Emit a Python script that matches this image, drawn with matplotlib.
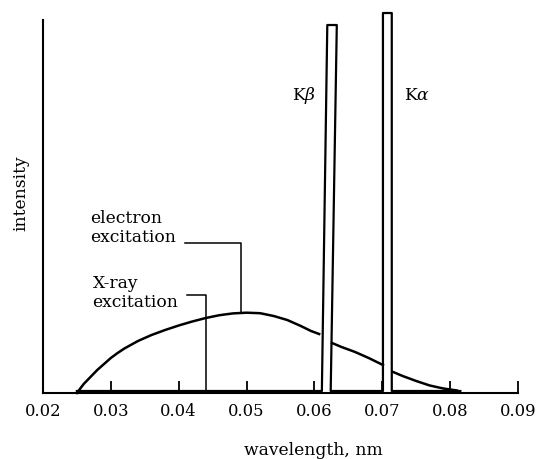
import matplotlib
matplotlib.use("Agg")
import matplotlib.pyplot as plt

plt.rcParams['font.family'] = ['DejaVu Serif']
plt.rcParams['mathtext.fontset'] = 'dejavuserif'

# wavelength (nm) and intensity (arbitrary units)
# electron excitation continuum, broken by the two lines
electron_wl_1 = [0.025, 0.026, 0.027, 0.028, 0.029, 0.030, 0.031, 0.032, 0.034, 0.036, 0.038,
                 0.040, 0.042, 0.044, 0.046, 0.048, 0.050, 0.052, 0.054, 0.056, 0.058, 0.0595, 0.0607]
electron_int_1 = [0, 9, 16, 23, 29, 35, 40, 44.5, 52, 58, 63,
                  67.5, 71.5, 75, 77.8, 79.6, 80.3, 79.8, 77, 73, 67, 62, 59]
electron_wl_2 = [0.0626, 0.064, 0.066, 0.068, 0.0701]
electron_int_2 = [50, 46, 41, 35, 28]
electron_wl_3 = [0.0716, 0.073, 0.075, 0.077, 0.079, 0.081]
electron_int_3 = [21, 17, 12, 7.5, 4.5, 2.5]

# X-ray excitation: flat trace with the K beta and K alpha lines
xray_wl = [0.025, 0.0611, 0.0619, 0.0633, 0.0624, 0.0701, 0.0701, 0.0714, 0.0714, 0.0815]
xray_int = [2, 2, 368, 368, 2, 2, 380, 380, 2, 2]

ticks = [0.02, 0.03, 0.04, 0.05, 0.06, 0.07, 0.08, 0.09]
tick_labels = ['0.02', '0.03', '0.04', '0.05', '0.06', '0.07', '0.08', '0.09']

fig = plt.figure(figsize=(5.37, 4.59), dpi=100)
ax = fig.add_axes([0.080, 0.1438, 0.8846, 0.8126])

lw = 1.8
ax.plot(electron_wl_1, electron_int_1, color='black', lw=lw, clip_on=False, solid_joinstyle='round')
ax.plot(electron_wl_2, electron_int_2, color='black', lw=lw, clip_on=False, solid_joinstyle='round')
ax.plot(electron_wl_3, electron_int_3, color='black', lw=lw, clip_on=False, solid_joinstyle='round')
ax.plot(xray_wl, xray_int, color='black', lw=1.6, clip_on=False)

# leader lines
ax.plot([0.04093, 0.04918, 0.04918], [150, 150, 80], color='black', lw=1.1)
ax.plot([0.04122, 0.0440, 0.0440], [98, 98, 0], color='black', lw=1.1)

ax.text(0.0269, 165, 'electron\nexcitation', ha='left', va='center', fontsize=12.3, linespacing=1.15)
ax.text(0.0273, 100, 'X-ray\nexcitation', ha='left', va='center', fontsize=12.3, linespacing=1.15)
ax.text(0.0585, 298, r'K$\beta$', ha='center', va='center', fontsize=12.3)
ax.text(0.0751, 298, r'K$\alpha$', ha='center', va='center', fontsize=12.3)

ax.set_xlim(0.02, 0.09)
ax.set_ylim(0, 373)
ax.set_xticks(ticks)
ax.set_xticklabels(tick_labels)
ax.set_yticks([])
ax.tick_params(axis='x', direction='in', length=8.5, width=1.3, pad=7, labelsize=11.8)
for s in ['top', 'right']:
    ax.spines[s].set_visible(False)
for s in ['left', 'bottom']:
    ax.spines[s].set_linewidth(1.5)

fig.text(0.583, 0.0196, 'wavelength, nm', ha='center', va='center', fontsize=12.3)
fig.text(0.039, 0.5795, 'intensity', ha='center', va='center', rotation=90, fontsize=12.3)

fig.savefig('out.png', dpi=100)
